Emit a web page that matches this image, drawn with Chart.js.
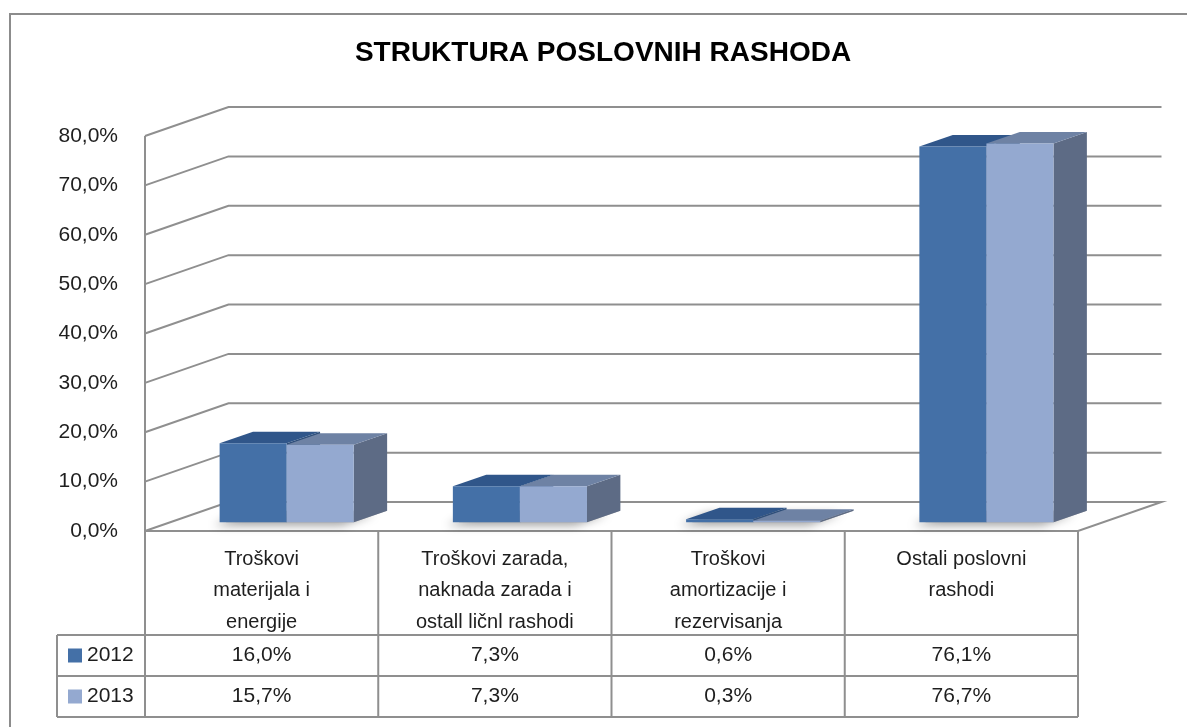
<!DOCTYPE html>
<html>
<head>
<meta charset="utf-8">
<script src="https://cdn.jsdelivr.net/npm/chart.js@4.4.0/dist/chart.umd.min.js"></script>
<style>
  html, body { margin: 0; padding: 0; background: #fff; overflow: hidden; }
  #frame { position: absolute; left: 9px; top: 13px; width: 1200px; height: 740px; border: 2px solid #8c8c8c; }
  #wrap { position: absolute; left: 0; top: 0; width: 1187px; height: 727px; }
</style>
</head>
<body>
<div id="frame"></div>
<div id="wrap"><canvas id="chart"></canvas></div>
<script>
// Podaci
const categories = [
  ["Troškovi", "materijala i", "energije"],
  ["Troškovi zarada,", "naknada zarada i", "ostall ličnl rashodi"],
  ["Troškovi", "amortizacije i", "rezervisanja"],
  ["Ostali poslovni", "rashodi"]
];
const seriesNames = ["2012", "2013"];
const values2012 = [16.0, 7.3, 0.6, 76.1];
const values2013 = [15.7, 7.3, 0.3, 76.7];
const yTicks = [0, 10, 20, 30, 40, 50, 60, 70, 80];

const title = "STRUKTURA POSLOVNIH RASHODA";
const fontFamily = "'Liberation Sans', Arial, sans-serif";
const gridColor = "#8f8f8f";
const textColor = "#1e1e1e";

// boje: lice, vrh, bok
const faceColors = ["#4470a7", "#94a9d0"];
const topColors = ["#30568a", "#6e82a4"];
const sideColors = ["#2f4f7a", "#5d6b85"];

// perspektiva (dubina zidova)
const depth = { x: 83.5, y: -29 };
const barFront = 0.3;
const barBack = 0.7;

function fmt(v) {
  return v.toFixed(1).replace(".", ",") + "%";
}

function poly(ctx, pts, fill) {
  ctx.beginPath();
  ctx.moveTo(pts[0][0], pts[0][1]);
  for (let i = 1; i < pts.length; i++) ctx.lineTo(pts[i][0], pts[i][1]);
  ctx.closePath();
  ctx.fillStyle = fill;
  ctx.fill();
}

const plot3d = {
  id: "plot3d",
  beforeDatasetsDraw(chart) {
    const ctx = chart.ctx;
    const a = chart.chartArea;
    const y = chart.scales.y;
    ctx.save();

    // zidovi i pod
    ctx.strokeStyle = gridColor;
    ctx.lineWidth = 2;
    yTicks.forEach(function (v) {
      const py = y.getPixelForValue(v);
      ctx.beginPath();
      ctx.moveTo(a.left, py);
      ctx.lineTo(a.left + depth.x, py + depth.y);
      ctx.lineTo(a.right + depth.x, py + depth.y);
      if (v === 0) {
        ctx.lineTo(a.right, py);
        ctx.lineTo(a.left, py);
      }
      ctx.stroke();
    });
    ctx.beginPath();
    ctx.moveTo(a.left, y.getPixelForValue(yTicks[yTicks.length - 1]));
    ctx.lineTo(a.left, a.bottom);
    ctx.stroke();

    const fx = depth.x * barFront, fy = depth.y * barFront;
    const bx = depth.x * (barBack - barFront), by = depth.y * (barBack - barFront);

    // sjenke
    const m0 = chart.getDatasetMeta(0).data;
    const m1 = chart.getDatasetMeta(1).data;
    for (let i = 0; i < m0.length; i++) {
      const l = m0[i].x - m0[i].width / 2 + fx;
      const r = m1[i].x + m1[i].width / 2 + fx;
      const b = m0[i].base + fy;
      ctx.save();
      ctx.shadowColor = "rgba(0,0,0,0.55)";
      ctx.shadowBlur = 10;
      ctx.shadowOffsetX = -12;
      ctx.shadowOffsetY = 3;
      poly(ctx, [[l + 6, b], [r, b], [r + bx, b + by], [l + bx, b + by]], "rgba(140,140,140,0.7)");
      ctx.restore();
    }

    // stubici
    for (let d = 0; d < chart.data.datasets.length; d++) {
      chart.getDatasetMeta(d).data.forEach(function (bar) {
        const x0 = bar.x - bar.width / 2 + fx;
        const x1 = bar.x + bar.width / 2 + fx;
        const yt = bar.y + fy;
        const yb = bar.base + fy;
        poly(ctx, [[x1, yt], [x1 + bx, yt + by], [x1 + bx, yb + by], [x1, yb]], sideColors[d]);
        poly(ctx, [[x0, yt], [x1, yt], [x1 + bx, yt + by], [x0 + bx, yt + by]], topColors[d]);
        poly(ctx, [[x0, yt], [x1, yt], [x1, yb], [x0, yb]], faceColors[d]);
      });
    }
    ctx.restore();
  },
  afterDraw(chart) {
    const ctx = chart.ctx;
    const a = chart.chartArea;
    const n = categories.length;
    const cw = (a.right - a.left) / n;
    const headBottom = a.bottom + 104;
    const rowH = 41;
    const legendLeft = 57;
    const tableBottom = headBottom + rowH * 2;
    ctx.save();

    // naslov
    ctx.fillStyle = "#000";
    ctx.font = "bold 28px " + fontFamily;
    ctx.textAlign = "center";
    ctx.textBaseline = "middle";
    ctx.fillText(title, 603, 53);

    // tabela
    ctx.strokeStyle = gridColor;
    ctx.lineWidth = 2;
    ctx.beginPath();
    for (let i = 0; i <= n; i++) {
      ctx.moveTo(a.left + i * cw, a.bottom);
      ctx.lineTo(a.left + i * cw, tableBottom);
    }
    [headBottom, headBottom + rowH, tableBottom].forEach(function (py) {
      ctx.moveTo(legendLeft, py);
      ctx.lineTo(a.right, py);
    });
    ctx.moveTo(legendLeft, headBottom);
    ctx.lineTo(legendLeft, tableBottom);
    ctx.stroke();

    ctx.fillStyle = textColor;
    ctx.font = "20px " + fontFamily;
    categories.forEach(function (lines, i) {
      const cx = chart.scales.x.getPixelForValue(i);
      lines.forEach(function (t, k) {
        ctx.fillText(t, cx, a.bottom + 28 + k * 31.5);
      });
    });

    const rows = [values2012, values2013];
    ctx.font = "21px " + fontFamily;
    rows.forEach(function (vals, r) {
      const cy = headBottom + rowH * r + rowH / 2;
      ctx.textAlign = "center";
      ctx.fillStyle = textColor;
      vals.forEach(function (v, i) {
        ctx.fillText(fmt(v), chart.scales.x.getPixelForValue(i), cy);
      });
      ctx.fillStyle = faceColors[r];
      ctx.fillRect(68, cy - 7, 14, 14);
      ctx.fillStyle = textColor;
      ctx.textAlign = "left";
      ctx.fillText(seriesNames[r], 87, cy);
    });
    ctx.restore();
  }
};

const chartElement = document.getElementById("chart");
new Chart(chartElement, {
  type: "bar",
  data: {
    labels: categories,
    datasets: [
      { label: seriesNames[0], data: values2012, backgroundColor: "rgba(0,0,0,0)" },
      { label: seriesNames[1], data: values2013, backgroundColor: "rgba(0,0,0,0)" }
    ]
  },
  options: {
    responsive: true,
    maintainAspectRatio: false,
    animation: false,
    events: [],
    layout: { padding: { top: 136, right: 109, bottom: 196, left: 0 } },
    datasets: { bar: { categoryPercentage: 0.575, barPercentage: 1 } },
    plugins: { legend: { display: false }, tooltip: { enabled: false } },
    scales: {
      x: { display: false },
      y: {
        min: 0,
        max: 80,
        afterFit: function (scale) { scale.width = 145; },
        afterBuildTicks: function (scale) {
          scale.ticks = yTicks.map(function (v) { return { value: v }; });
        },
        grid: { display: false, drawTicks: false },
        border: { display: false },
        ticks: {
          padding: 27,
          color: textColor,
          font: { family: fontFamily, size: 21 },
          callback: function (v) { return fmt(v); }
        }
      }
    }
  },
  plugins: [plot3d]
});
</script>
</body>
</html>
